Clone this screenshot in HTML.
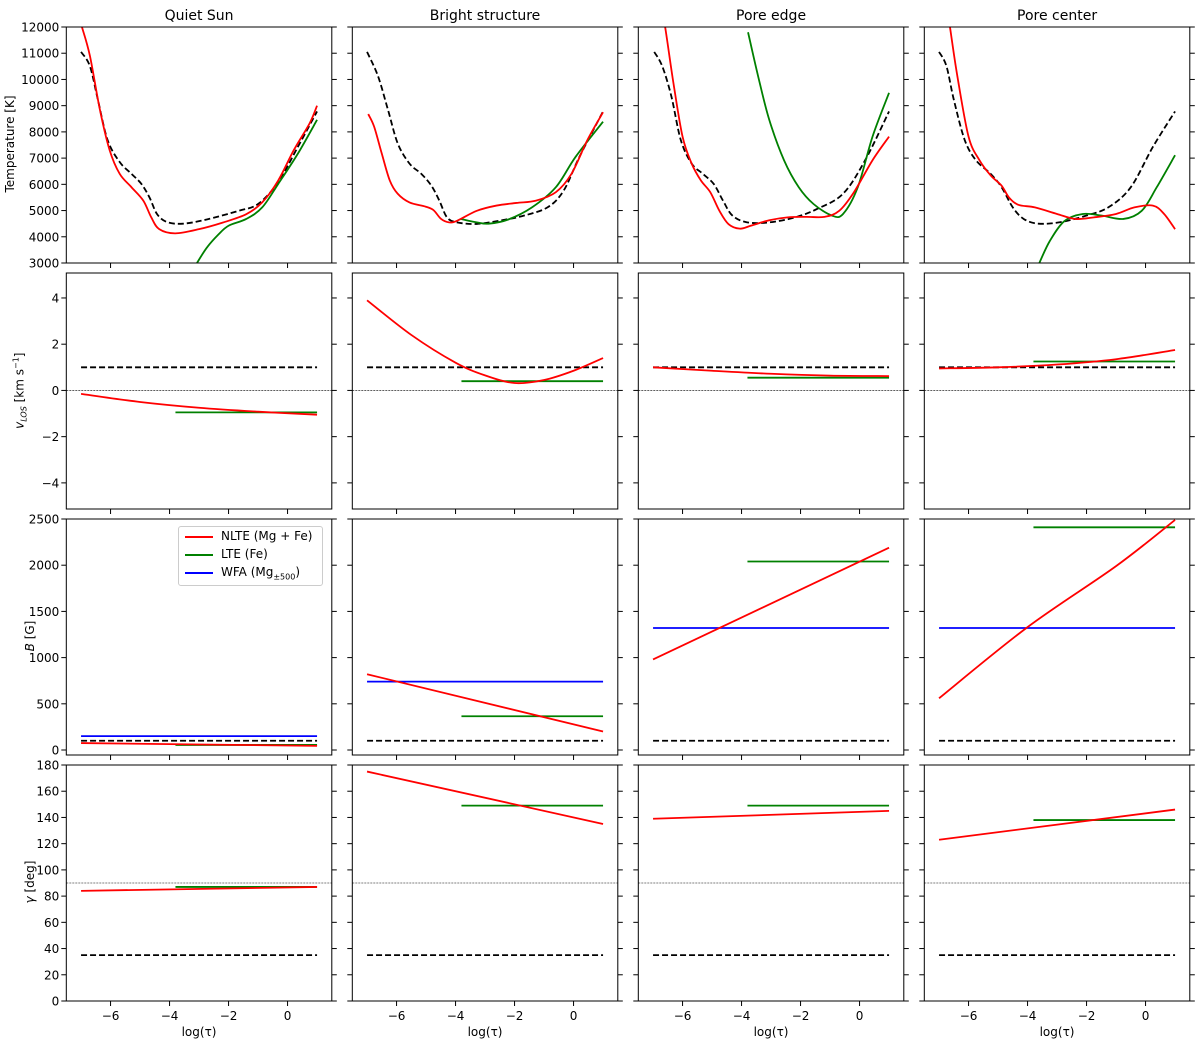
<!DOCTYPE html>
<html><head><meta charset="utf-8">
<style>
body{margin:0;background:#fff;}
svg{display:block;font-family:"DejaVu Sans","Liberation Sans",sans-serif;}
</style></head>
<body>
<svg id="fig" width="1200" height="1045" viewBox="0 0 1200 1045" xmlns="http://www.w3.org/2000/svg"></svg>
<script>
// ---------- data ----------
const colTitles = ["Quiet Sun","Bright structure","Pore edge","Pore center"];
// Temperature row: [logtau, T]
const tempNLTE = [
 [[-6.97,12000],[-6.7,10900],[-6.36,8840],[-6.03,7300],[-5.69,6400],[-5.29,5890],[-4.89,5380],[-4.62,4740],[-4.35,4290],[-3.81,4130],[-3.0,4290],[-2.2,4540],[-1.4,4860],[-0.86,5310],[-0.32,6140],[0.21,7300],[0.75,8330],[1.0,9000]],
 [[-6.96,8680],[-6.76,8200],[-6.5,7170],[-6.23,6150],[-5.96,5640],[-5.56,5310],[-5.02,5150],[-4.75,5020],[-4.49,4680],[-4.22,4550],[-3.95,4610],[-3.28,4990],[-2.61,5190],[-1.94,5290],[-1.27,5380],[-0.6,5700],[-0.07,6400],[0.47,7690],[1.0,8750]],
 [[-7,15000],[-6.8,13300],[-6.59,12000],[-6.31,9870],[-6.0,7820],[-5.69,6790],[-5.38,6150],[-5.06,5700],[-4.75,4990],[-4.44,4480],[-4.06,4310],[-3.69,4420],[-3.06,4630],[-2.44,4740],[-1.81,4760],[-1.19,4760],[-0.69,4990],[-0.19,5700],[0.44,6920],[1.0,7820]],
 [[-7,15000],[-6.8,13300],[-6.63,12000],[-6.38,10130],[-6.0,7820],[-5.63,6920],[-5.25,6340],[-4.88,5950],[-4.63,5500],[-4.31,5220],[-3.75,5120],[-3.0,4870],[-2.38,4680],[-1.75,4740],[-1.0,4870],[-0.38,5120],[0.25,5190],[0.63,4870],[1.0,4290]]
];
const tempRef = [
 [[-7,11050],[-6.7,10510],[-6.43,9230],[-6.1,7690],[-5.69,6850],[-5.29,6400],[-4.95,6010],[-4.68,5500],[-4.42,4860],[-4.08,4560],[-3.54,4500],[-2.74,4660],[-1.66,4990],[-1.0,5250],[-0.32,6080],[0.35,7430],[1.0,8780]],
 [[-7,11050],[-6.63,10130],[-6.29,8840],[-5.96,7560],[-5.56,6790],[-5.16,6400],[-4.82,5950],[-4.55,5380],[-4.29,4740],[-3.95,4550],[-3.28,4490],[-2.48,4620],[-1.67,4810],[-0.87,5130],[-0.33,5770],[0.2,7050],[1.0,8780]],
 [[-6.96,11050],[-6.69,10510],[-6.38,9360],[-6.06,7690],[-5.69,6790],[-5.31,6400],[-4.94,6010],[-4.63,5380],[-4.31,4810],[-3.81,4550],[-3.06,4550],[-2.19,4740],[-1.44,5060],[-0.56,5640],[0.19,6920],[1.0,8780]],
 [[-7,11050],[-6.75,10510],[-6.5,9230],[-6.13,7690],[-5.75,6920],[-5.25,6400],[-4.88,5890],[-4.5,5120],[-4.13,4680],[-3.63,4500],[-2.88,4560],[-2.0,4810],[-1.25,5130],[-0.5,5890],[0.25,7430],[1.0,8780]]
];
const tempLTE = [
 [[-3.07,3000],[-2.74,3580],[-2.34,4090],[-2.0,4420],[-1.4,4680],[-0.86,5120],[-0.32,6010],[0.35,7170],[1.0,8460]],
 [[-3.82,4680],[-3.28,4550],[-2.88,4500],[-2.21,4660],[-1.41,5120],[-0.6,5890],[0.07,7050],[1.0,8390]],
 [[-3.78,11800],[-3.44,10130],[-3.06,8460],[-2.56,6920],[-2.06,5890],[-1.56,5250],[-0.94,4810],[-0.56,4870],[-0.06,5890],[0.44,7820],[1.0,9490]],
 [[-3.6,3000],[-3.25,3830],[-2.75,4600],[-2.13,4870],[-1.5,4810],[-0.75,4680],[-0.13,4990],[0.38,5890],[1.0,7110]]
];
// v_LOS row
const vNLTE = [
 [[-7,-0.15],[-5,-0.5],[-3,-0.75],[-1,-0.92],[1,-1.05]],
 [[-7,3.9],[-5.5,2.4],[-4,1.2],[-3,0.65],[-2,0.32],[-1,0.45],[0,0.85],[1,1.4]],
 [[-7,1.0],[-5,0.85],[-3,0.72],[-1,0.64],[1,0.62]],
 [[-7,0.95],[-5,1.0],[-3,1.12],[-1,1.35],[1,1.75]]
];
const vLTE = [-0.95,0.4,0.55,1.25];
const vRef = [1.0,1.0,1.0,1.0];
// B row
const bNLTE = [
 [[-7,75],[1,45]],
 [[-7,820],[1,200]],
 [[-7,980],[1,2190]],
 [[-7,560],[-4,1330],[-1,1990],[1,2490]]
];
const bLTE = [55,365,2040,2410];
const bWFA = [150,740,1320,1320];
const bRef = [100,100,100,100];
// gamma row
const gNLTE = [
 [[-7,84],[1,87]],
 [[-7,175],[1,135]],
 [[-7,139],[1,145]],
 [[-7,123],[1,146]]
];
const gLTE = [87,149,149,138];
const gRef = [35,35,35,35];
const lteStart = -3.8;
const tauMin = -7, tauMax = 1;
const xTicks = [-6,-4,-2,0];
const tTicks = [3000,4000,5000,6000,7000,8000,9000,10000,11000,12000];
const vTicks = [-4,-2,0,2,4];
const bTicks = [0,500,1000,1500,2000,2500];
const gTicks = [0,20,40,60,80,100,120,140,160,180];

// ---------- layout ----------
const NS="http://www.w3.org/2000/svg";
const svg=document.getElementById('fig');
const colLeft=[66.3,352.3,638.3,924.3], axW=265.5;
const rowTop=[27,273,519,765], axH=236;
const xlim=[-7.5,1.5];
const ylims=[[3000,12000],[-5.13,5.08],[-54,2500],[0,180]];
function el(tag,attrs,parent){const e=document.createElementNS(NS,tag);for(const k in attrs)e.setAttribute(k,attrs[k]);(parent||svg).appendChild(e);return e;}
function xs(c,v){return colLeft[c]+(v-xlim[0])/(xlim[1]-xlim[0])*axW;}
function ys(r,v){const l=ylims[r];return rowTop[r]+axH-(v-l[0])/(l[1]-l[0])*axH;}
function smoothPath(pts){
  if(pts.length<3){return 'M'+pts.map(p=>p[0].toFixed(2)+','+p[1].toFixed(2)).join('L');}
  let d='M'+pts[0][0].toFixed(2)+','+pts[0][1].toFixed(2);
  for(let i=0;i<pts.length-1;i++){
    const p0=pts[Math.max(0,i-1)],p1=pts[i],p2=pts[i+1],p3=pts[Math.min(pts.length-1,i+2)];
    const c1=[p1[0]+(p2[0]-p0[0])/6,p1[1]+(p2[1]-p0[1])/6];
    const c2=[p2[0]-(p3[0]-p1[0])/6,p2[1]-(p3[1]-p1[1])/6];
    d+='C'+c1.map(v=>v.toFixed(2)).join(',')+' '+c2.map(v=>v.toFixed(2)).join(',')+' '+p2[0].toFixed(2)+','+p2[1].toFixed(2);
  }
  return d;
}
const defs=el('defs',{});
function curve(r,c,data,color,name,dash){
  const pts=data.map(p=>[xs(c,p[0]),ys(r,p[1])]);
  const p=el('path',{d:smoothPath(pts),fill:'none',stroke:color,'stroke-width':1.8,'clip-path':`url(#clip${r}${c})`});
  if(dash)p.setAttribute('stroke-dasharray',dash);
  
  
  return p;
}
function hline(r,c,x0,x1,v,color,name,dash,w){
  const l=el('line',{x1:xs(c,x0),x2:xs(c,x1),y1:ys(r,v),y2:ys(r,v),stroke:color,'stroke-width':w||1.8});
  if(dash)l.setAttribute('stroke-dasharray',dash);
  
  
  return l;
}
const yTickSets=[tTicks,vTicks,bTicks,gTicks];
for(let r=0;r<4;r++){for(let c=0;c<4;c++){
  const cp=el('clipPath',{id:`clip${r}${c}`},defs);
  el('rect',{x:colLeft[c],y:rowTop[r],width:axW,height:axH},cp);
  const x0=colLeft[c],y0=rowTop[r];
  // ticks
  for(const t of xTicks){const x=xs(c,t);
    el('line',{x1:x,x2:x,y1:y0+axH,y2:y0+axH+5,stroke:'#000','stroke-width':1});
    if(r===3){const tx=el('text',{x:x,y:y0+axH+19,'font-size':12,'text-anchor':'middle'});tx.textContent=(t<0?'\u2212'+(-t):t);
      }
  }
  for(const t of yTickSets[r]){const y=ys(r,t);
    el('line',{x1:x0-5,x2:x0,y1:y,y2:y,stroke:'#000','stroke-width':1});
    el('line',{x1:x0+axW,x2:x0+axW+5,y1:y,y2:y,stroke:'#000','stroke-width':1});
    if(c===0){const tx=el('text',{x:x0-7,y:y+4.5,'font-size':12,'text-anchor':'end'});tx.textContent=(t<0?'\u2212'+(-t):t);
      }
  }
  if(r===1) hline(r,c,xlim[0],xlim[1],0,'#000','zero-line','2,1',0.6);
  if(r===3) hline(r,c,xlim[0],xlim[1],90,'#000','ninety-deg-line','2,1',0.6);
  if(r===0){
    curve(r,c,tempRef[c],'#000','temperature-reference','6,3');
    curve(r,c,tempLTE[c],'#008000','temperature-lte');
    curve(r,c,tempNLTE[c],'#ff0000','temperature-nlte');
  } else if(r===1){
    hline(r,c,tauMin,tauMax,vRef[c],'#000','vlos-reference','6,3');
    hline(r,c,lteStart,tauMax,vLTE[c],'#008000','vlos-lte');
    curve(r,c,vNLTE[c],'#ff0000','vlos-nlte');
  } else if(r===2){
    hline(r,c,tauMin,tauMax,bRef[c],'#000','b-reference','6,3');
    hline(r,c,tauMin,tauMax,bWFA[c],'#0000ff','b-wfa');
    hline(r,c,lteStart,tauMax,bLTE[c],'#008000','b-lte');
    curve(r,c,bNLTE[c],'#ff0000','b-nlte');
  } else {
    hline(r,c,tauMin,tauMax,gRef[c],'#000','gamma-reference','6,3');
    hline(r,c,lteStart,tauMax,gLTE[c],'#008000','gamma-lte');
    curve(r,c,gNLTE[c],'#ff0000','gamma-nlte');
  }
  const fr=el('rect',{x:x0,y:y0,width:axW,height:axH,fill:'none',stroke:'#000','stroke-width':1});
  
}}
// titles
colTitles.forEach((t,c)=>{const tx=el('text',{x:colLeft[c]+axW/2,y:20,'font-size':14,'text-anchor':'middle'});tx.textContent=t;
  });
for(let c=0;c<4;c++){const tx=el('text',{x:colLeft[c]+axW/2,y:1036,'font-size':12,'text-anchor':'middle'});tx.textContent='log(\u03C4)';
  }
</script>
<svg width="0" height="0"></svg>
<div style="position:absolute;left:0;top:0;width:1200px;height:1045px;pointer-events:none;font-family:'DejaVu Sans','Liberation Sans',sans-serif;font-size:12px;">
  <div style="position:absolute;left:-40px;top:137px;width:100px;text-align:center;transform:rotate(-90deg);white-space:nowrap;">Temperature [K]</div>
  <div style="position:absolute;left:-30px;top:382px;width:100px;text-align:center;transform:rotate(-90deg);white-space:nowrap;"><i>v<sub style="font-size:8px">LOS</sub></i> [km s<sup style="font-size:8px">−1</sup>]</div>
  <div style="position:absolute;left:-20px;top:629px;width:100px;text-align:center;transform:rotate(-90deg);white-space:nowrap;"><i>B</i> [G]</div>
  <div style="position:absolute;left:-20px;top:875px;width:100px;text-align:center;transform:rotate(-90deg);white-space:nowrap;"><i>γ</i> [deg]</div>
  <div style="position:absolute;left:178px;top:526px;width:143px;height:58px;border:1px solid #ccc;border-radius:3px;background:#fff;">
    <div style="position:absolute;left:6px;top:2px;white-space:nowrap;"><span style="display:inline-block;width:28px;height:2px;background:#f00;vertical-align:middle;margin-right:8px;"></span>NLTE (Mg + Fe)</div>
    <div style="position:absolute;left:6px;top:20px;white-space:nowrap;"><span style="display:inline-block;width:28px;height:2px;background:#008000;vertical-align:middle;margin-right:8px;"></span>LTE (Fe)</div>
    <div style="position:absolute;left:6px;top:38px;white-space:nowrap;"><span style="display:inline-block;width:28px;height:2px;background:#00f;vertical-align:middle;margin-right:8px;"></span>WFA (Mg<sub style="font-size:8px">±500</sub>)</div>
  </div>
</div>
</body></html>
